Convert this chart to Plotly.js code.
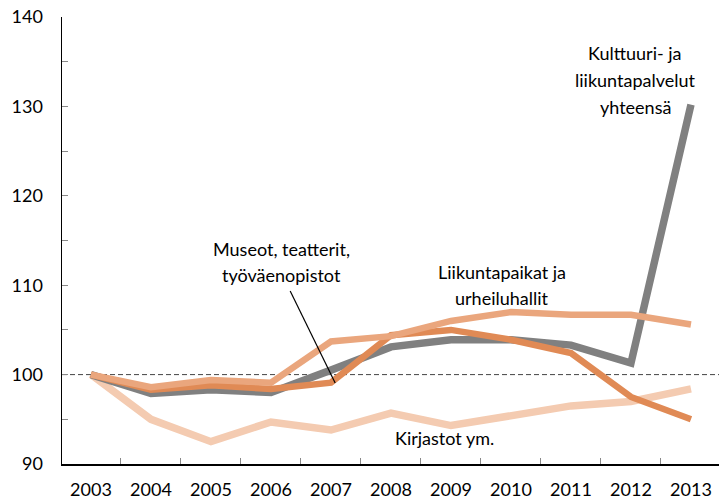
<!DOCTYPE html>
<html>
<head>
<meta charset="utf-8">
<script src="https://cdn.plot.ly/plotly-3.0.1.min.js"></script>
<style>html,body{margin:0;padding:0;background:#fff;}#chart{width:719px;height:501px;}</style>
</head>
<body>
<div id="chart"></div>
<script>
const years = [2003, 2004, 2005, 2006, 2007, 2008, 2009, 2010, 2011, 2012, 2013];
const kulttuuriLiikunta = [100, 97.9, 98.3, 98.0, 100.5, 103.1, 103.9, 103.9, 103.3, 101.3, 130.2];
const museotTeatterit = [100, 98.3, 98.8, 98.4, 99.1, 104.4, 105.0, 103.9, 102.4, 97.5, 95.0];
const liikuntapaikat = [100, 98.6, 99.4, 99.1, 103.7, 104.3, 106.0, 107.0, 106.7, 106.7, 105.6];
const kirjastot = [100, 95.0, 92.5, 94.7, 93.8, 95.7, 94.3, 95.3, 96.5, 97.0, 98.4];
const seriesNames = ["Kirjastot ym.", "Kulttuuri- ja liikuntapalvelut yhteensä", "Museot, teatterit, työväenopistot", "Liikuntapaikat ja urheiluhallit"];

const FONT = "Lato, 'Open Sans', sans-serif";
function tr(y, name, color, w) {
  return {x: years, y: y, name: name, type: 'scatter', mode: 'lines',
    line: {color: color, width: w}, hoverinfo: 'skip'};
}
const data = [
  tr(kirjastot, seriesNames[0], '#f4cbb1', 7.5),
  tr(kulttuuriLiikunta, seriesNames[1], '#808080', 7.5),
  tr(museotTeatterit, seriesNames[2], '#e08a55', 6.5),
  tr(liikuntapaikat, seriesNames[3], '#eaa67d', 6.5)
];

function ann(text, x, y) {
  return {text: text, x: x, y: y, xref: 'x', yref: 'y', showarrow: false,
    xanchor: 'center', yanchor: 'middle', font: {family: FONT, size: 18, color: '#000'}};
}

const layout = {
  width: 719, height: 501,
  margin: {l: 62, r: 0, t: 17, b: 37},
  paper_bgcolor: '#fff', plot_bgcolor: '#fff',
  showlegend: false,
  font: {family: FONT, size: 18, color: '#000'},
  xaxis: {
    range: [2002.517, 2013.467], showgrid: false, zeroline: false,
    showline: true, linecolor: '#000', linewidth: 1.5,
    tickvals: years, ticktext: years.map(String), ticks: '',
    ticklabelstandoff: 9,
    tickfont: {family: FONT, size: 18, color: '#000'},
    minor: {ticks: 'inside', tick0: 2003.5, dtick: 1, ticklen: 6, tickcolor: '#888', tickwidth: 1, showgrid: false}
  },
  yaxis: {
    range: [90, 140], showgrid: false, zeroline: false,
    showline: true, linecolor: '#000', linewidth: 1.5,
    tickvals: [90, 100, 110, 120, 130, 140], ticks: 'inside', ticklen: 6, tickcolor: '#888', tickwidth: 1,
    ticklabelstandoff: 14,
    tickfont: {family: FONT, size: 18, color: '#000'},
    minor: {ticks: 'inside', tick0: 95, dtick: 10, ticklen: 6, tickcolor: '#888', tickwidth: 1, showgrid: false}
  },
  shapes: [
    {type: 'line', xref: 'paper', yref: 'y', x0: 0, x1: 1, y0: 100, y1: 100,
     line: {color: '#444', width: 1, dash: '5px,3px'}, layer: 'below'},
    {type: 'line', xref: 'x', yref: 'y', x0: 2006.32, y0: 109.35, x1: 2007.07, y1: 99.06,
     line: {color: '#000', width: 1.2}}
  ],
  annotations: [
    ann('Kulttuuri- ja', 2012.07, 135.97),
    ann('liikuntapalvelut', 2012.07, 132.95),
    ann('yhteensä', 2012.07, 129.93),
    ann('Liikuntapaikat ja', 2009.85, 111.48),
    ann('urheiluhallit', 2009.85, 108.57),
    ann('Museot, teatterit,', 2006.18, 114.05),
    ann('työväenopistot', 2006.18, 111.14),
    ann('Kirjastot ym.', 2008.9, 92.91)
  ]
};

Plotly.newPlot('chart', data, layout, {staticPlot: true, displayModeBar: false});
</script>
</body>
</html>
